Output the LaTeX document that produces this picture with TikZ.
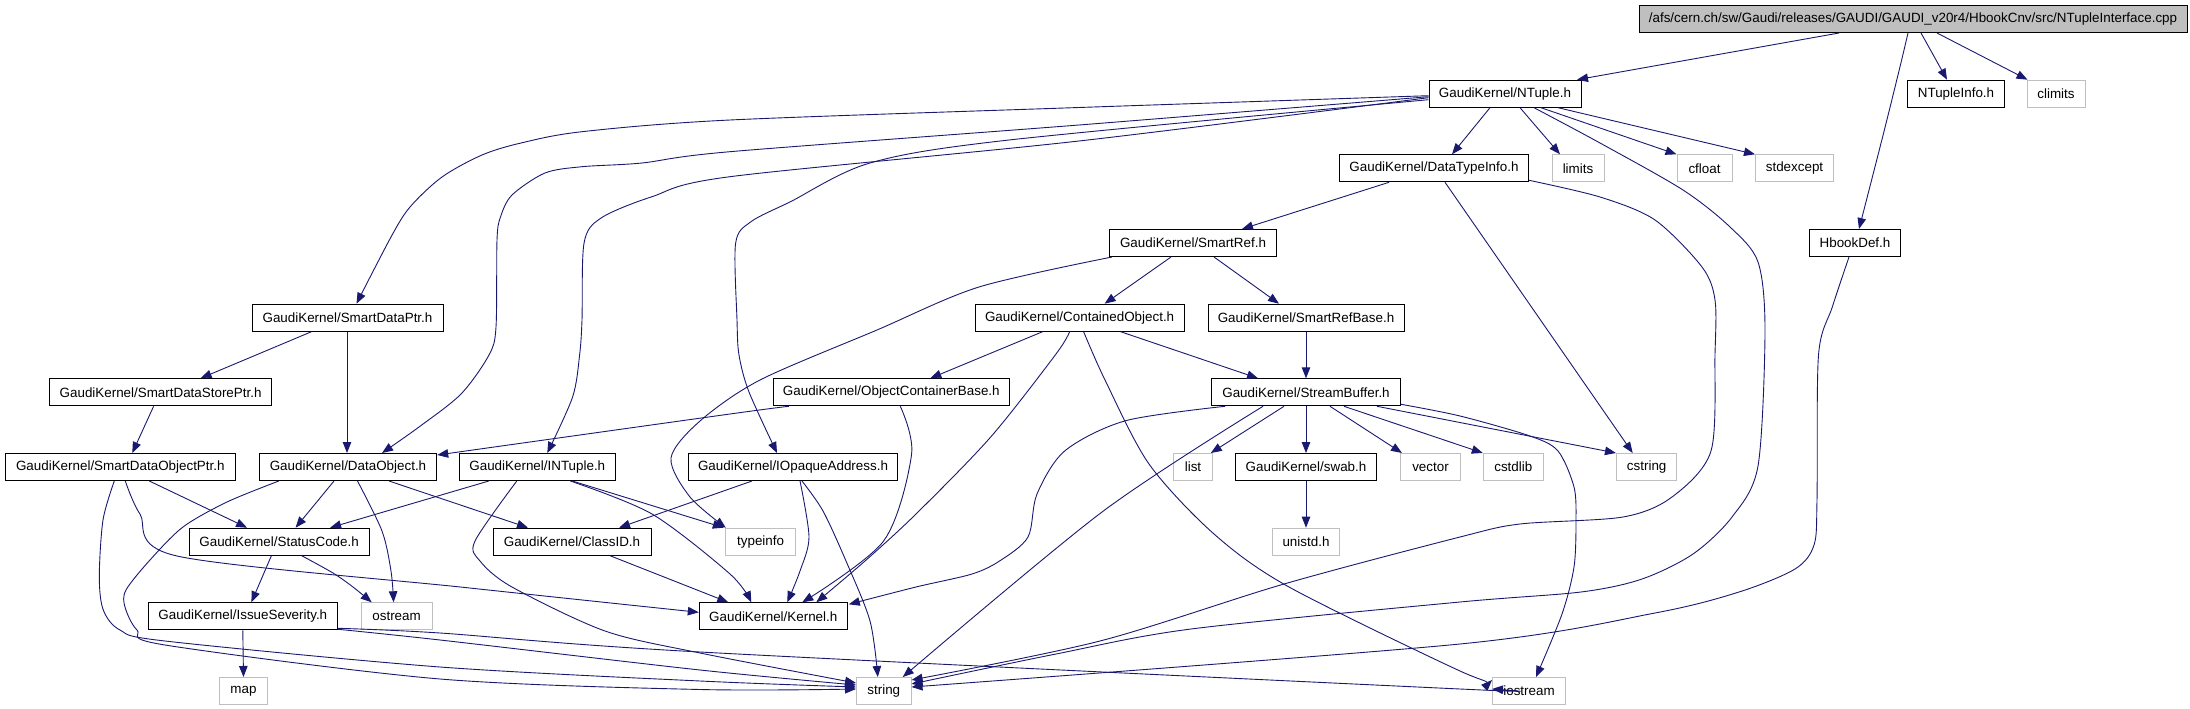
\documentclass[tikz,border=0pt]{standalone}
\usepackage{fontspec}
\setmainfont{Liberation Sans}
\usetikzlibrary{arrows.meta,calc}
\definecolor{mblue}{HTML}{191970}
\definecolor{sysgray}{HTML}{BFBFBF}
\definecolor{rootfill}{HTML}{BFBFBF}
\tikzset{
  box/.style={draw=black, fill=white, line width=1pt, minimum height=27pt, inner sep=0pt,
    font=\fontsize{13.4}{15}\selectfont},
  sysbox/.style={box, draw=sysgray},
  edge/.style={draw=mblue, line width=0.9pt, -{Triangle[length=11pt,width=8.5pt,fill=mblue]}},
}
\begin{document}
\begin{tikzpicture}[x=1pt,y=-1pt]
\useasboundingbox (0,0) rectangle (2190,709);
% nodes
\node[box, fill=rootfill, minimum width=548pt] (root) at (1913,19) {/afs/cern.ch/sw/Gaudi/releases/GAUDI/GAUDI\_v20r4/HbookCnv/src/NTupleInterface.cpp};
\node[box, minimum width=152pt] (NTuple) at (1505,93.7) {GaudiKernel/NTuple.h};
\node[box, minimum width=97pt] (NTupleInfo) at (1956,93.7) {NTupleInfo.h};
\node[sysbox, minimum width=58pt] (climits) at (2056,93.7) {climits};
\node[box, minimum width=189pt] (DataTypeInfo) at (1434,168.3) {GaudiKernel/DataTypeInfo.h};
\node[sysbox, minimum width=52pt] (limits) at (1578,168.3) {limits};
\node[sysbox, minimum width=55pt] (cfloat) at (1704.5,168.3) {cfloat};
\node[sysbox, minimum width=78pt] (stdexcept) at (1794.5,168.3) {stdexcept};
\node[box, minimum width=167pt] (SmartRef) at (1193,243) {GaudiKernel/SmartRef.h};
\node[box, minimum width=91pt] (HbookDef) at (1855,243) {HbookDef.h};
\node[box, minimum width=191pt] (SmartDataPtr) at (347.5,317.7) {GaudiKernel/SmartDataPtr.h};
\node[box, minimum width=209pt] (ContainedObject) at (1079.6,317.7) {GaudiKernel/ContainedObject.h};
\node[box, minimum width=196pt] (SmartRefBase) at (1306,317.7) {GaudiKernel/SmartRefBase.h};
\node[box, minimum width=222.5pt] (SmartDataStorePtr) at (160.6,392.3) {GaudiKernel/SmartDataStorePtr.h};
\node[box, minimum width=236pt] (ObjectContainerBase) at (891.3,392.3) {GaudiKernel/ObjectContainerBase.h};
\node[box, minimum width=189pt] (StreamBuffer) at (1306,392.3) {GaudiKernel/StreamBuffer.h};
\node[box, minimum width=229.5pt] (SmartDataObjectPtr) at (120.3,467) {GaudiKernel/SmartDataObjectPtr.h};
\node[box, minimum width=177.4pt] (DataObject) at (348,467) {GaudiKernel/DataObject.h};
\node[box, minimum width=155.5pt] (INTuple) at (537.3,467) {GaudiKernel/INTuple.h};
\node[box, minimum width=209pt] (IOpaqueAddress) at (793,467) {GaudiKernel/IOpaqueAddress.h};
\node[sysbox, minimum width=38.6pt] (list) at (1193,467) {list};
\node[box, minimum width=141pt] (swab) at (1306,467) {GaudiKernel/swab.h};
\node[sysbox, minimum width=60pt] (vector) at (1430.5,467) {vector};
\node[sysbox, minimum width=60pt] (cstdlib) at (1513.3,467) {cstdlib};
\node[sysbox, minimum width=60.5pt] (cstring) at (1646.7,467) {cstring};
\node[box, minimum width=180pt] (StatusCode) at (279.1,541.7) {GaudiKernel/StatusCode.h};
\node[box, minimum width=158pt] (ClassID) at (572,541.7) {GaudiKernel/ClassID.h};
\node[sysbox, minimum width=70.6pt] (typeinfo) at (760.6,541.7) {typeinfo};
\node[sysbox, minimum width=67.5pt] (unistd) at (1306,541.7) {unistd.h};
\node[box, minimum width=189.5pt] (IssueSeverity) at (242.8,616.3) {GaudiKernel/IssueSeverity.h};
\node[sysbox, minimum width=70.8pt] (ostream) at (396.6,616.3) {ostream};
\node[box, minimum width=148pt] (Kernel) at (773.3,616.3) {GaudiKernel/Kernel.h};
\node[sysbox, minimum width=48.4pt] (map) at (243.5,691) {map};
\node[sysbox, minimum width=54.5pt] (string) at (883.8,691) {string};
\node[sysbox, minimum width=73pt] (iostream) at (1529,691) {iostream};

% root edges
\draw[edge] ($(root.south)+(-74,0)$) -- ($(NTuple.north)+(72,0)$);
\draw[edge] plot[smooth] coordinates {($(root.south)+(-5,0)$) (1900,66.7) (1883.6,133) ($(HbookDef.north)+(4,0)$)};
\draw[edge] ($(root.south)+(8,0)$) -- ($(NTupleInfo.north)+(-9,0)$);
\draw[edge] ($(root.south)+(24,0)$) -- ($(climits.north west)+(1,0)$);

% NTuple edges
\draw[edge] ($(NTuple.south)+(-15,0)$) -- ($(DataTypeInfo.north)+(18,0)$);
\draw[edge] ($(NTuple.south)+(15,0)$) -- ($(limits.north)+(-18,0)$);
\draw[edge] ($(NTuple.south)+(36,0)$) -- ($(cfloat.north west)+(0,0)$);
\draw[edge] ($(NTuple.south)+(53,0)$) -- (stdexcept.north west);
\draw[edge] plot[smooth] coordinates {($(NTuple.south)+(29,0)$) (1600,143) (1683,190) (1730,227) (1758,262) (1765,330) (1758,466) (1732,517) (1693,554) (1642,579) (1581,592) (1460,602) (1191,629) (1056,654) ($(string.east)+(0,-7)$)};
\draw[edge] plot[smooth] coordinates {($(NTuple.west)+(0,2)$) (1079,107.5) (730,120) (582,131.7) (521,143) (482,155) (442,177) (410,207) (391,237) ($(SmartDataPtr.north)+(9,0)$)};
\draw[edge] plot[smooth] coordinates {($(NTuple.west)+(0,3)$) (1079,125) (730,151.7) (642,163) (582,166.7) (545,173) (512,195) (500.5,217) (497,240) (496,327) (489,355) (461,394) (419,427) ($(DataObject.north)+(34,0)$)};
\draw[edge] plot[smooth] coordinates {($(NTuple.west)+(0,4)$) (1079,141) (730,176.7) (652,196.7) (600.6,218.3) (584,243.3) (582,320) (579.6,355) (572.6,397) ($(INTuple.north)+(10,0)$)};
\draw[edge] plot[smooth] coordinates {($(NTuple.west)+(0,6)$) (1009,140) (870,163) (790.5,201.7) (751,221.7) (735.6,243.3) (737,320) (739,355) (749,392) ($(IOpaqueAddress.north)+(-16,0)$)};

% DataTypeInfo edges
\draw[edge] ($(DataTypeInfo.south)+(-45,0)$) -- ($(SmartRef.north)+(49,0)$);
\draw[edge] ($(DataTypeInfo.south)+(11,0)$) -- ($(cstring.north)+(-14,0)$);
\draw[edge] plot[smooth] coordinates {($(DataTypeInfo.east)+(0,12)$) (1600,197) (1655,220) (1702,267) (1715,300) (1715,354) (1711,451) (1672,497) (1623,517) (1520,524) (1460,537) (1284,584) (1100,641) ($(string.east)+(0,-11)$)};

% HbookDef
\draw[edge] plot[smooth] coordinates {($(HbookDef.south)+(-6,0)$) (1832.4,306.7) (1818.5,355) (1817,500) (1814,545) (1795,569) (1739,592) (1655,613) (1460,644) ($(string.east)+(0,-4)$)};

% SmartRef edges
\draw[edge] ($(SmartRef.south)+(-22,0)$) -- ($(ContainedObject.north)+(25,0)$);
\draw[edge] ($(SmartRef.south)+(21,0)$) -- ($(SmartRefBase.north)+(-27,0)$);
\draw[edge] plot[smooth] coordinates {($(SmartRef.south west)+(3,0)$) (979,287) (877,330) (760,380) (700,421) (671,458) (690,497) ($(typeinfo.north west)+(1,0)$)};

% SmartDataPtr
\draw[edge] ($(SmartDataPtr.south)+(-36,0)$) -- ($(SmartDataStorePtr.north)+(40,0)$);
\draw[edge] ($(SmartDataPtr.south)+(-0.5,0)$) -- ($(DataObject.north)+(-1,0)$);
\draw[edge] ($(SmartDataStorePtr.south)+(-7,0)$) -- ($(SmartDataObjectPtr.north)+(12,0)$);

% ContainedObject
\draw[edge] ($(ContainedObject.south)+(-37,0)$) -- ($(ObjectContainerBase.north)+(39,0)$);
\draw[edge] ($(ContainedObject.south)+(41,0)$) -- ($(StreamBuffer.north)+(-48,0)$);
\draw[edge] plot[smooth] coordinates {($(ContainedObject.south)+(-10,0)$) (1056,354) (990.7,437) (916,514) (865,561) ($(Kernel.north)+(43,0)$)};
\draw[edge] plot[smooth] coordinates {($(ContainedObject.south)+(4,0)$) (1105,380) (1149,464) (1214,534) (1289,587) (1460,671) ($(iostream.north west)+(0,3)$)};

% SmartRefBase
\draw[edge] (SmartRefBase.south) -- (StreamBuffer.north);

% ObjectContainerBase
\draw[edge] plot[smooth] coordinates {($(ObjectContainerBase.south west)+(16,0)$) (730,414) ($(DataObject.north east)+(0,2)$)};
\draw[edge] plot[smooth] coordinates {($(ObjectContainerBase.south)+(9,0)$) (911.6,454) (883.6,541) ($(Kernel.north)+(29,0)$)};

% StreamBuffer
\draw[edge] plot[smooth] coordinates {($(StreamBuffer.south west)+(14,0)$) (1125.7,420.7) (1065,450.7) (1037,494) (1028,537) (1000,560.7) (972,574) (916,587) ($(Kernel.north east)+(1,2)$)};
\draw[edge] plot[smooth] coordinates {($(StreamBuffer.south)+(-43,0)$) (1102,512) ($(string.north)+(19,0)$)};
\draw[edge] ($(StreamBuffer.south)+(-22,0)$) -- ($(list.north east)+(-2,0)$);
\draw[edge] (StreamBuffer.south) -- (swab.north);
\draw[edge] ($(StreamBuffer.south)+(24,0)$) -- ($(vector.north west)+(2,0)$);
\draw[edge] ($(StreamBuffer.south)+(38,0)$) -- (cstdlib.north west);
\draw[edge] ($(StreamBuffer.south east)+(-24,0)$) -- (cstring.north west);
\draw[edge] plot[smooth] coordinates {($(StreamBuffer.east)+(0,12)$) (1460,416) (1530,436) (1558,451) (1574,487) (1576,521) (1574,567) (1562,614) ($(iostream.north)+(7,0)$)};

% swab
\draw[edge] (swab.south) -- (unistd.north);

% SmartDataObjectPtr
\draw[edge] ($(SmartDataObjectPtr.south)+(29,0)$) -- ($(StatusCode.north)+(-32,0)$);
\draw[edge] plot[smooth] coordinates {($(SmartDataObjectPtr.south)+(5,0)$) (140,514) (177,556) (465,587.5) ($(Kernel.west)+(0,-4)$)};
\draw[edge] plot[smooth] coordinates {($(SmartDataObjectPtr.south)+(-6,0)$) (103,520) (99.3,577) (103.3,610) (120,630) (165,641) (440,667) (700,681) ($(string.west)+(0,-4)$)};

% DataObject
\draw[edge] ($(DataObject.south)+(-14,0)$) -- ($(StatusCode.north)+(16.5,0)$);
\draw[edge] ($(DataObject.south)+(41,0)$) -- ($(ClassID.north)+(-44,0)$);
\draw[edge] plot[smooth] coordinates {($(DataObject.south)+(9.5,0)$) (382,531) (391,571) ($(ostream.north)+(-3,0)$)};
\draw[edge] plot[smooth] coordinates {($(DataObject.south west)+(20,0)$) (227,502) (183,527) (150,560) (126,590) (125,607) (137,630) (165,645) (440,679) (700,689.5) ($(string.west)+(0,-2)$)};

% INTuple
\draw[edge] ($(INTuple.south)+(-48.5,0)$) -- ($(StatusCode.north)+(51,0)$);
\draw[edge] ($(INTuple.south)+(35,0)$) -- ($(typeinfo.north west)+(-1,0)$);
\draw[edge] plot[smooth] coordinates {($(INTuple.south)+(33,0)$) (652,514) (730,574) ($(Kernel.north)+(-22,0)$)};
\draw[edge] plot[smooth] coordinates {($(INTuple.south)+(-20.5,0)$) (475,541) (480,561) (512,587) (605,631) (700,653) ($(string.west)+(0,-8)$)};

% StatusCode
\draw[edge] ($(StatusCode.south)+(-7.7,0)$) -- ($(IssueSeverity.north)+(8.6,0)$);
\draw[edge] plot[smooth] coordinates {($(StatusCode.south)+(22.6,0)$) (333,573) (353,587) ($(ostream.north west)+(11,0)$)};

% IssueSeverity
\draw[edge] (IssueSeverity.south) -- (map.north);
\draw[edge] plot[smooth] coordinates {($(IssueSeverity.south east)+(0,-1)$) (440,640) (700,670) ($(string.west)+(0,-6)$)};
\draw[edge] plot[smooth] coordinates {($(IssueSeverity.south east)+(0,-2)$) (440,633) (700,652) (1460,689) ($(iostream.west)+(0,-2)$)};

% ClassID
\draw[edge] ($(ClassID.south)+(38,0)$) -- ($(Kernel.north)+(-45,0)$);

% IOpaqueAddress
\draw[edge] ($(IOpaqueAddress.south)+(-41,0)$) -- ($(ClassID.north)+(47,0)$);
\draw[edge] plot[smooth] coordinates {($(IOpaqueAddress.south)+(7,0)$) (809,537) (800,571) ($(Kernel.north)+(14,0)$)};
\draw[edge] plot[smooth] coordinates {($(IOpaqueAddress.south)+(9,0)$) (823,511) (846,561) (870,621) ($(string.north)+(-6,0)$)};
\end{tikzpicture}
\end{document}
